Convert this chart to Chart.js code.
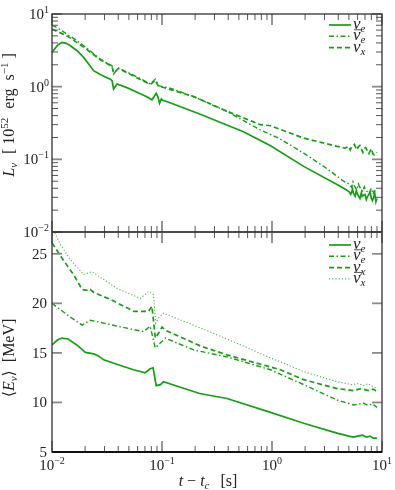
<!DOCTYPE html>
<html>
<head>
<meta charset="utf-8">
<script src="https://cdn.jsdelivr.net/npm/chart.js@4.4.1/dist/chart.umd.min.js"></script>
<style>
  body { margin: 0; background: #fff; }
  #wrap { position: relative; width: 395px; height: 490px; }
  #wrap canvas { position: absolute; left: 0; top: 0; }
</style>
</head>
<body>
<div id="wrap">
  <canvas id="lumChart" width="395" height="490"></canvas>
  <canvas id="eneChart" width="395" height="490"></canvas>
</div>
<script>
// ---- data ----
// luminosity panel, units of 1e52 erg/s
const lumTimeNuE = [0.01, 0.0112, 0.0123, 0.0135, 0.0147, 0.017, 0.0194, 0.0239, 0.028, 0.0339, 0.0352, 0.0363, 0.039, 0.048, 0.0593, 0.072, 0.081, 0.0887, 0.092, 0.095, 0.0987, 0.102, 0.115, 0.22, 0.55, 0.97, 1.94, 3.9, 4.6, 5.0, 5.2, 5.4, 5.5, 5.7, 5.85, 6.0, 6.3, 6.5, 6.6, 7.0, 7.2, 7.4, 7.8, 8.0, 8.2, 8.6, 8.8, 9.0];
const lumNuE = [2.96, 3.7, 4.06, 3.95, 3.65, 3.1, 2.53, 1.66, 1.45, 1.27, 1.2, 0.93, 1.09, 0.97, 0.84, 0.73, 0.66, 0.81, 0.72, 0.59, 0.68, 0.65, 0.61, 0.42, 0.24, 0.154, 0.080, 0.045, 0.039, 0.036, 0.033, 0.039, 0.034, 0.031, 0.037, 0.033, 0.029, 0.035, 0.031, 0.033, 0.028, 0.031, 0.035, 0.029, 0.027, 0.034, 0.026, 0.029];

const lumTimeAntiNuE = [0.01, 0.0113, 0.0137, 0.0165, 0.0194, 0.0235, 0.0275, 0.0351, 0.0363, 0.0403, 0.05, 0.063, 0.0784, 0.0869, 0.093, 0.1, 0.115, 0.194, 0.39, 0.78, 1.15, 1.94, 3.1, 4.47, 5.0, 5.3, 5.45, 5.6, 5.9, 6.1, 6.3, 6.7, 6.9, 7.1, 7.6, 8.0, 8.3, 8.5, 9.0];
const lumAntiNuE = [7.0, 6.4, 5.27, 4.4, 3.65, 2.9, 2.39, 1.94, 1.49, 1.80, 1.55, 1.3, 1.09, 1.27, 1.03, 1.0, 0.97, 0.73, 0.455, 0.255, 0.196, 0.122, 0.076, 0.050, 0.046, 0.041, 0.049, 0.043, 0.038, 0.046, 0.041, 0.036, 0.042, 0.038, 0.034, 0.040, 0.033, 0.037, 0.034];

const lumTimeNuX = [0.01, 0.0137, 0.0194, 0.0275, 0.0351, 0.0363, 0.0403, 0.0784, 0.0869, 0.093, 0.1, 0.194, 0.39, 0.78, 0.97, 1.94, 3.9, 4.6, 5.0, 5.15, 5.3, 5.6, 5.9, 6.1, 6.3, 6.7, 6.9, 7.1, 7.6, 8.0, 8.3, 8.5, 9.0];
const lumNuX = [6.2, 5.0, 3.5, 2.35, 1.9, 1.55, 1.78, 1.07, 1.22, 1.0, 0.99, 0.73, 0.46, 0.30, 0.29, 0.196, 0.151, 0.143, 0.15, 0.135, 0.148, 0.16, 0.135, 0.15, 0.155, 0.125, 0.142, 0.145, 0.12, 0.14, 0.118, 0.115, 0.125];

// mean energy panel, MeV
const eneTimeNuE = [0.01, 0.0112, 0.0123, 0.014, 0.0168, 0.0201, 0.0239, 0.0265, 0.0295, 0.0376, 0.055, 0.0705, 0.078, 0.083, 0.0886, 0.097, 0.103, 0.22, 0.39, 0.97, 1.94, 3.9, 5.0, 5.5, 6.0, 6.7, 7.2, 7.8, 8.3, 9.0];
const eneNuE = [15.8, 16.3, 16.5, 16.4, 15.8, 15.05, 14.9, 14.7, 14.3, 13.9, 13.3, 13.0, 13.4, 13.5, 11.7, 11.8, 12.1, 10.9, 10.4, 9.0, 7.9, 6.9, 6.6, 6.5, 6.6, 6.7, 6.5, 6.6, 6.4, 6.4];

const eneTimeAntiNuE = [0.01, 0.0137, 0.0188, 0.0223, 0.039, 0.068, 0.078, 0.0869, 0.103, 0.107, 0.194, 0.39, 0.97, 1.94, 3.9, 5.5, 6.1, 6.7, 7.5, 8.2, 9.0];
const eneAntiNuE = [20.0, 18.85, 17.8, 18.3, 17.7, 17.15, 17.7, 15.5, 16.3, 16.5, 15.3, 14.6, 13.3, 11.8, 10.25, 9.75, 9.8, 9.95, 9.7, 9.85, 9.5];

const eneTimeNuX = [0.01, 0.0128, 0.0157, 0.0188, 0.0215, 0.0223, 0.024, 0.0339, 0.0552, 0.0755, 0.081, 0.087, 0.093, 0.1, 0.107, 0.223, 0.39, 1.19, 1.94, 3.9, 5.5, 6.5, 7.5, 8.3, 9.0];
const eneNuX = [26.1, 24.3, 22.9, 21.4, 21.3, 21.4, 21.1, 20.4, 19.2, 19.2, 19.7, 16.5, 17.0, 17.6, 17.3, 15.7, 14.8, 13.3, 12.3, 11.4, 11.2, 11.4, 11.2, 11.35, 11.1];

const eneTimeAntiNuX = [0.01, 0.0119, 0.0147, 0.0194, 0.0231, 0.039, 0.0636, 0.0755, 0.0837, 0.0875, 0.093, 0.103, 0.194, 0.39, 0.97, 1.19, 1.94, 3.9, 5.3, 6.1, 6.8, 7.5, 8.2, 9.0];
const eneAntiNuX = [27.7, 25.95, 24.4, 22.9, 23.2, 21.5, 20.5, 21.2, 20.9, 18.0, 18.5, 19.0, 17.8, 16.4, 14.5, 14.1, 13.1, 12.1, 11.8, 11.9, 11.7, 11.9, 11.6, 11.4];

// axis ticks
const timeTickExp = [-2, -1, 0, 1];
const lumTickExp = [-2, -1, 0, 1];
const eneTicks = [5, 10, 15, 20, 25];

const green = 'rgb(22,158,22)';
const serif = "'Liberation Serif', 'DejaVu Serif', serif";

const lineStyle = {
  nuE:     { color: green, width: 1.7, dash: [] },
  antiNuE: { color: green, width: 1.4, dash: [5, 2.5, 1.5, 2.5] },
  nuX:     { color: green, width: 1.7, dash: [5, 3] },
  antiNuX: { color: 'rgb(70,185,70)', width: 1.1, dash: [1.2, 2] }
};

const toPoints = (ts, vs) => ts.map((t, i) => ({ x: t, y: vs[i] }));

const makeSet = (label, ts, vs, key, flavour, bar) => ({
  label: label,
  data: toPoints(ts, vs),
  borderColor: lineStyle[key].color,
  borderWidth: lineStyle[key].width,
  borderDash: lineStyle[key].dash,
  pointRadius: 0,
  tension: 0,
  fill: false,
  flavour: flavour,
  bar: bar
});

// text with sub/superscripts, parts: {t, s(size), i(italic), dy, g(gap after), bar}
function drawRich(ctx, parts, x, y, align, angle) {
  ctx.save();
  ctx.translate(x, y);
  if (angle) ctx.rotate(angle);
  const fontOf = p => (p.i ? 'italic ' : '') + (p.s || 15) + 'px ' + serif;
  let w = 0;
  parts.forEach(p => { ctx.font = fontOf(p); w += ctx.measureText(p.t).width + (p.g || 0); });
  let cx = align === 'center' ? -w / 2 : (align === 'right' ? -w : 0);
  ctx.textAlign = 'left';
  ctx.textBaseline = 'alphabetic';
  ctx.fillStyle = '#222';
  parts.forEach(p => {
    ctx.font = fontOf(p);
    const tw = ctx.measureText(p.t).width;
    ctx.fillText(p.t, cx, p.dy || 0);
    if (p.bar) {
      ctx.strokeStyle = '#222';
      ctx.lineWidth = 0.8;
      ctx.beginPath();
      ctx.moveTo(cx + 1, (p.dy || 0) - 10.5);
      ctx.lineTo(cx + tw + 1.5, (p.dy || 0) - 10.5);
      ctx.stroke();
    }
    cx += tw + (p.g || 0);
  });
  ctx.restore();
}

const powerLabel = e => [{ t: '10', s: 15 }, { t: e < 0 ? '\u2212' + (-e) : String(e), s: 10, dy: -6 }];

function tick(ctx, x1, y1, x2, y2, major) {
  ctx.strokeStyle = major ? '#8a8a8a' : '#555';
  ctx.lineWidth = major ? 1.8 : 1;
  ctx.beginPath();
  ctx.moveTo(x1, y1);
  ctx.lineTo(x2, y2);
  ctx.stroke();
}

// frame, inward ticks on all four sides, labels, titles and legend
const panelPlugin = {
  id: 'panel',
  afterDatasetsDraw(chart, args, opts) {
    const ctx = chart.ctx;
    const a = chart.chartArea;
    const xs = chart.scales.x, ys = chart.scales.y;
    ctx.save();

    // x ticks (log)
    timeTickExp.forEach((e, k) => {
      const px = xs.getPixelForValue(Math.pow(10, e));
      tick(ctx, px, a.bottom, px, a.bottom - 11, true);
      tick(ctx, px, a.top, px, a.top + 11, true);
      if (k < timeTickExp.length - 1) {
        for (let m = 2; m <= 9; m++) {
          const mx = xs.getPixelForValue(m * Math.pow(10, e));
          tick(ctx, mx, a.bottom, mx, a.bottom - 6, false);
          tick(ctx, mx, a.top, mx, a.top + 6, false);
        }
      }
      if (opts.xLabels) drawRich(ctx, powerLabel(e), px, 470, 'center');
    });

    // y ticks
    if (opts.logY) {
      lumTickExp.forEach((e, k) => {
        const py = ys.getPixelForValue(Math.pow(10, e));
        tick(ctx, a.left, py, a.left + 10, py, true);
        tick(ctx, a.right, py, a.right - 10, py, true);
        if (k < lumTickExp.length - 1) {
          for (let m = 2; m <= 9; m++) {
            const my = ys.getPixelForValue(m * Math.pow(10, e));
            tick(ctx, a.left, my, a.left + 6, my, false);
            tick(ctx, a.right, my, a.right - 6, my, false);
          }
        }
        drawRich(ctx, powerLabel(e), 49, py + 5, 'right');
      });
    } else {
      eneTicks.forEach(v => {
        const py = ys.getPixelForValue(v);
        tick(ctx, a.left, py, a.left + 10, py, true);
        tick(ctx, a.right, py, a.right - 10, py, true);
        drawRich(ctx, [{ t: String(v), s: 15 }], 47, py + 5, 'right');
      });
    }

    // frame
    ctx.strokeStyle = '#333';
    ctx.lineWidth = 1.3;
    ctx.strokeRect(a.left, a.top, a.right - a.left, a.bottom - a.top);
    if (opts.xLabels) {
      ctx.strokeStyle = '#111';
      ctx.lineWidth = 2;
      ctx.beginPath();
      ctx.moveTo(a.left, a.bottom);
      ctx.lineTo(a.right, a.bottom);
      ctx.stroke();
    }

    // titles
    drawRich(ctx, opts.yTitle, 14, opts.yTitleAt, 'center', -Math.PI / 2);
    if (opts.xLabels) {
      drawRich(ctx, [
        { t: 't', i: true, s: 16, g: 4 }, { t: '\u2212', s: 16, g: 4 }, { t: 't', i: true, s: 16 },
        { t: 'c', i: true, s: 11, dy: 3, g: 11 }, { t: '[s]', s: 16 }
      ], 208, 486, 'center');
    }

    // legend
    chart.data.datasets.forEach((ds, i) => {
      const rowY = opts.legendTop + i * 11.3;
      ctx.strokeStyle = ds.borderColor;
      ctx.lineWidth = ds.borderWidth;
      ctx.setLineDash(ds.borderDash);
      ctx.beginPath();
      ctx.moveTo(329, rowY);
      ctx.lineTo(351, rowY);
      ctx.stroke();
      ctx.setLineDash([]);
      drawRich(ctx, [
        { t: '\u03bd', i: true, s: 17, bar: ds.bar },
        { t: ds.flavour, i: true, s: 11, dy: 3 }
      ], 353, rowY + 4, 'left');
    });

    ctx.restore();
  }
};

const xScale = { type: 'logarithmic', min: 0.01, max: 10, display: false };

new Chart(document.getElementById('lumChart'), {
  type: 'line',
  data: {
    datasets: [
      makeSet('nu_e', lumTimeNuE, lumNuE, 'nuE', 'e', false),
      makeSet('anti nu_e', lumTimeAntiNuE, lumAntiNuE, 'antiNuE', 'e', true),
      makeSet('nu_x', lumTimeNuX, lumNuX, 'nuX', 'x', false)
    ]
  },
  options: {
    responsive: false,
    animation: false,
    parsing: false,
    layout: { padding: { left: 52, right: 13, top: 14, bottom: 258 } },
    scales: {
      x: xScale,
      y: { type: 'logarithmic', min: 0.01, max: 10, display: false }
    },
    plugins: {
      legend: { display: false },
      tooltip: { enabled: false },
      panel: {
        logY: true,
        xLabels: false,
        legendTop: 25,
        yTitleAt: 115,
        yTitle: [
          { t: 'L', i: true, s: 16 }, { t: '\u03bd', i: true, s: 11, dy: 3, g: 9 },
          { t: '[', s: 16, g: 4 }, { t: '10', s: 16 }, { t: '52', s: 11, dy: -6, g: 9 },
          { t: 'erg', s: 16, g: 8 }, { t: 's', s: 16 }, { t: '\u22121', s: 11, dy: -6, g: 4 }, { t: ']', s: 16 }
        ]
      }
    }
  },
  plugins: [panelPlugin]
});

new Chart(document.getElementById('eneChart'), {
  type: 'line',
  data: {
    datasets: [
      makeSet('nu_e', eneTimeNuE, eneNuE, 'nuE', 'e', false),
      makeSet('anti nu_e', eneTimeAntiNuE, eneAntiNuE, 'antiNuE', 'e', true),
      makeSet('nu_x', eneTimeNuX, eneNuX, 'nuX', 'x', false),
      makeSet('anti nu_x', eneTimeAntiNuX, eneAntiNuX, 'antiNuX', 'x', true)
    ]
  },
  options: {
    responsive: false,
    animation: false,
    parsing: false,
    layout: { padding: { left: 52, right: 13, top: 232, bottom: 38 } },
    scales: {
      x: xScale,
      y: { type: 'linear', min: 5, max: 27.2, display: false }
    },
    plugins: {
      legend: { display: false },
      tooltip: { enabled: false },
      panel: {
        logY: false,
        xLabels: true,
        legendTop: 245,
        yTitleAt: 358,
        yTitle: [
          { t: '\u27e8', s: 16 }, { t: 'E', i: true, s: 16 }, { t: '\u03bd', i: true, s: 11, dy: 3 },
          { t: '\u27e9', s: 16, g: 8 }, { t: '[MeV]', s: 16 }
        ]
      }
    }
  },
  plugins: [panelPlugin]
});
</script>
</body>
</html>
